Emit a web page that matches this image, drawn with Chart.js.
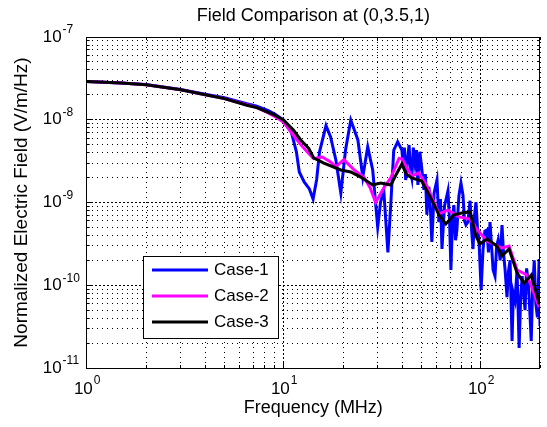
<!DOCTYPE html>
<html>
<head>
<meta charset="utf-8">
<script src="https://cdn.jsdelivr.net/npm/chart.js@4.4.1/dist/chart.umd.min.js"></script>
<style>
html, body { margin: 0; padding: 0; background: #fff; }
</style>
</head>
<body>
<canvas id="fieldChart" width="547" height="427"></canvas>
<script>
// valeurs (MHz, V/m/Hz)
const freqCase1 = [1, 1.5, 2, 3, 4, 5, 6.5, 7.3, 8.3, 9,
  10, 10.9, 11.6, 12.0, 12.7, 13.5, 14.1, 14.7, 15.2, 16.4,
  17.3, 18.4, 19.5, 20.6, 21.9, 23.8, 25.2, 26.7, 28.3, 30,
  31, 32.2, 33.8, 35, 36.2, 37.9,
  39.8, 40.5, 41, 41.6, 42.4, 43.3, 44, 44.7, 45.5, 46.4,
  47.2, 48, 49.1, 50.2, 51.5, 52.4, 53.3, 54.6, 55.5, 56.5,
  58, 60, 61.4, 62.5, 63.6, 65.5, 68.2, 69.5, 70.6, 72,
  73.1, 74.5, 75.7, 77.5, 79.4, 81.3, 82.8, 84.2, 86.1, 88.3,
  90, 91.4, 93, 94.6, 96.3, 98, 100.5, 102.7, 105, 107.6,
  109.5, 111.5, 113.5, 115.6, 118.2, 120.5, 122.6, 125.5, 128.3, 130.5,
  133, 136, 138.5, 141, 144.3, 146.5, 149.4, 153, 156.7, 159.5,
  162.4, 165, 168, 171, 175, 180.5, 183.5, 187, 190.5, 194,
  198, 200];
const fieldCase1 = [2.9e-8, 2.78e-8, 2.66e-8, 2.32e-8, 2.03e-8, 1.84e-8, 1.56e-8, 1.46e-8, 1.3e-8, 1.17e-8,
  9.9e-9, 7.3e-9, 4.1e-9, 2.34e-9, 1.77e-9, 1.46e-9, 1.1e-9, 1.9e-9, 4.1e-9, 8.5e-9,
  6.2e-9, 3.27e-9, 1.3e-9, 4.3e-9, 9.9e-9, 5.7e-9, 2.03e-9, 4.7e-9, 2.47e-9, 5.06e-10,
  1.0e-9, 1.42e-9, 2.5e-10, 1.0e-9, 4.3e-9, 5.4e-9,
  4.3e-9, 2.6e-9, 4.6e-9, 1.87e-9, 3.2e-9, 4.95e-9, 2.4e-9, 1.98e-9, 4.6e-9, 3.0e-9,
  4.3e-9, 1.63e-9, 4.1e-9, 2.6e-9, 1.42e-9, 2.2e-9, 7.1e-10, 1.54e-9, 9e-10, 3.33e-10,
  1.3e-9, 1.87e-9, 5.8e-10, 1.1e-9, 2.74e-10, 9e-10, 1.38e-9, 6e-10, 1.53e-10, 6.5e-10,
  9.3e-10, 3.5e-10, 4.65e-10, 1.2e-9, 1.72e-9, 1.23e-9, 6e-10, 5.35e-10, 5.8e-10, 1.05e-9,
  4.5e-10, 2.74e-10, 7e-10, 1.01e-9, 5e-10, 3.5e-10, 8.8e-11, 2.66e-10, 4.5e-10, 4.66e-10,
  2.5e-10, 5.8e-10, 3.0e-10, 1.53e-10, 1.29e-10, 3.0e-10, 3.52e-10, 2.0e-10, 5.35e-10, 2.5e-10,
  1.53e-10, 7.2e-11, 1.5e-10, 2.0e-10, 2.12e-11, 8e-11, 6.6e-11, 1.53e-10, 1.75e-11, 7e-11,
  1.29e-10, 8e-11, 5.0e-11, 1.6e-10, 1.0e-10, 2.12e-11, 9e-11, 2.0e-10, 6e-11, 4.1e-11,
  2.08e-10, 3.2e-11];

const freqCase2 = [1, 1.5, 2, 3, 4, 5, 6.5, 7.3, 8.3, 9,
  10, 11.2, 12.2, 13.4, 14.2, 15.7, 17.3, 18.4, 20.2, 22.7,
  25.6, 27.5, 29.3, 32.2, 35, 38.5, 39.8, 42.7, 44.7, 48.5,
  53.3, 57, 61.4, 68.2, 77.6, 88.3, 94.6, 107.6, 128.3, 139.3,
  153, 172, 196, 200];
const fieldCase2 = [2.9e-8, 2.78e-8, 2.65e-8, 2.3e-8, 2.0e-8, 1.8e-8, 1.52e-8, 1.4e-8, 1.22e-8, 1.1e-8,
  9.3e-9, 6.5e-9, 5.0e-9, 3.9e-9, 3.4e-9, 3.55e-9, 3.1e-9, 2.7e-9, 3.3e-9, 2.5e-9,
  2.0e-9, 1.5e-9, 1.0e-9, 1.5e-9, 2.0e-9, 3.4e-9, 3.36e-9, 2.5e-9, 2.09e-9, 2.28e-9,
  1.6e-9, 1.1e-9, 7.3e-10, 8.1e-10, 6.7e-10, 6.3e-10, 4.9e-10, 3.43e-10, 2.82e-10, 2.98e-10,
  1.53e-10, 1.33e-10, 5.8e-11, 6.3e-11];

const freqCase3 = [1, 1.5, 2, 3, 4, 5, 6.5, 7.3, 8.3, 9,
  10, 11.2, 12.2, 13.4, 14.2, 16, 19.5, 21.9, 24.6, 28.3,
  31.1, 35, 37.3, 39.8, 41.9, 44.7, 50.2, 55.9, 61.4, 66.6,
  73.1, 81.3, 88.3, 94.6, 99.1, 107.6, 121, 128.3, 139.3, 153,
  166, 180.5, 196, 200];
const fieldCase3 = [2.9e-8, 2.78e-8, 2.65e-8, 2.3e-8, 2.0e-8, 1.8e-8, 1.5e-8, 1.4e-8, 1.24e-8, 1.14e-8,
  9.9e-9, 7.5e-9, 5.7e-9, 4.5e-9, 3.45e-9, 3.0e-9, 2.47e-9, 2.34e-9, 2.03e-9, 1.63e-9,
  1.72e-9, 1.63e-9, 2.2e-9, 2.92e-9, 2.2e-9, 1.98e-9, 1.82e-9, 1.13e-9, 7.1e-10, 5.5e-10,
  7.1e-10, 7.5e-10, 7.7e-10, 3.94e-10, 3.15e-10, 3.62e-10, 2.98e-10, 2.26e-10, 2.74e-10, 1.41e-10,
  1.06e-10, 1.33e-10, 6.6e-11, 7.6e-11];

const xTicks = [1, 2, 3, 4, 5, 6, 7, 8, 9, 10, 20, 30, 40, 50, 60, 70, 80, 90, 100, 200];
const yTicks = [1e-11, 2e-11, 3e-11, 4e-11, 5e-11, 6e-11, 7e-11, 8e-11, 9e-11,
  1e-10, 2e-10, 3e-10, 4e-10, 5e-10, 6e-10, 7e-10, 8e-10, 9e-10,
  1e-9, 2e-9, 3e-9, 4e-9, 5e-9, 6e-9, 7e-9, 8e-9, 9e-9,
  1e-8, 2e-8, 3e-8, 4e-8, 5e-8, 6e-8, 7e-8, 8e-8, 9e-8, 1e-7];

const chartTitle = 'Field Comparison at (0,3.5,1)';
const FONT = "'Liberation Sans', Arial, Helvetica, sans-serif";

function isDecade(v) {
  const l = Math.log10(v);
  return Math.abs(l - Math.round(l)) < 1e-6;
}
function toPoints(xs, ys) {
  return xs.map((x, i) => ({ x: x, y: ys[i] }));
}

// cadre, graduations, libelles 10^n, titre et legende facon matlab
const matlabFrame = {
  id: 'matlabFrame',
  afterDatasetsDraw(chart) {
    const { ctx, chartArea: a, scales: { x, y } } = chart;
    const al = p => Math.round(p - 0.5) + 0.5;
    ctx.save();
    ctx.strokeStyle = '#000';
    ctx.lineWidth = 1;
    ctx.setLineDash([]);
    ctx.beginPath();
    x.ticks.forEach(t => {
      const px = al(x.getPixelForValue(t.value));
      const len = isDecade(t.value) ? 5 : 3;
      ctx.moveTo(px, a.bottom); ctx.lineTo(px, a.bottom - len);
      ctx.moveTo(px, a.top); ctx.lineTo(px, a.top + len);
    });
    y.ticks.forEach(t => {
      const py = al(y.getPixelForValue(t.value));
      const len = isDecade(t.value) ? 5 : 3;
      ctx.moveTo(a.left, py); ctx.lineTo(a.left + len, py);
      ctx.moveTo(a.right, py); ctx.lineTo(a.right - len, py);
    });
    ctx.stroke();
    ctx.strokeRect(al(a.left), al(a.top), Math.round(a.right - a.left), Math.round(a.bottom - a.top));

    ctx.fillStyle = '#000';
    ctx.textBaseline = 'middle';

    // titre centre sur la zone de trace
    ctx.textAlign = 'center';
    ctx.font = '18px ' + FONT;
    ctx.fillText(chartTitle, (a.left + a.right) / 2, 16);

    // libelles des decades
    ctx.textAlign = 'left';
    const base = '17px ' + FONT, sup = '12px ' + FONT;
    x.ticks.filter(t => isDecade(t.value)).forEach(t => {
      const e = String(Math.round(Math.log10(t.value)));
      ctx.font = base; const w1 = ctx.measureText('10').width;
      ctx.font = sup; const w2 = ctx.measureText(e).width;
      const px = x.getPixelForValue(t.value) - (w1 + w2) / 2;
      ctx.font = base; ctx.fillText('10', px, a.bottom + 21);
      ctx.font = sup; ctx.fillText(e, px + w1 + 1, a.bottom + 13);
    });
    y.ticks.filter(t => isDecade(t.value)).forEach(t => {
      const e = String(Math.round(Math.log10(t.value)));
      const py = y.getPixelForValue(t.value);
      ctx.font = base; const w1 = ctx.measureText('10').width;
      ctx.fillText('10', a.left - 44, py);
      ctx.font = sup; ctx.fillText(e, a.left - 44 + w1 + 1, py - 7);
    });

    // legende
    const lx = 143, ly = 256, lw = 135, lh = 82;
    ctx.fillStyle = '#fff';
    ctx.fillRect(lx, ly, lw, lh);
    ctx.strokeStyle = '#000';
    ctx.lineWidth = 1;
    ctx.strokeRect(lx + 0.5, ly + 0.5, lw, lh);
    ctx.font = '17px ' + FONT;
    chart.data.datasets.forEach((ds, i) => {
      const yy = ly + 14 + i * 26;
      ctx.strokeStyle = ds.borderColor;
      ctx.lineWidth = ds.borderWidth;
      ctx.beginPath();
      ctx.moveTo(lx + 9, yy); ctx.lineTo(lx + 65, yy);
      ctx.stroke();
      ctx.fillStyle = '#000';
      ctx.fillText(ds.label, lx + 71, yy);
    });
    ctx.restore();
  }
};

Chart.defaults.font.family = FONT;
Chart.defaults.color = '#000';

const gridDash = c => c.tick ? (isDecade(c.tick.value) ? [2, 2] : [1, 4]) : [];

const ctx = document.getElementById('fieldChart').getContext('2d');
new Chart(ctx, {
  type: 'line',
  data: {
    datasets: [
      { label: 'Case-1', data: toPoints(freqCase1, fieldCase1), borderColor: '#0000ff', borderWidth: 3, order: 3 },
      { label: 'Case-2', data: toPoints(freqCase2, fieldCase2), borderColor: '#ff00ff', borderWidth: 3, order: 2 },
      { label: 'Case-3', data: toPoints(freqCase3, fieldCase3), borderColor: '#000000', borderWidth: 3, order: 1 }
    ]
  },
  options: {
    responsive: false,
    animation: false,
    devicePixelRatio: 1,
    layout: { padding: { left: 0, right: 7, top: 37, bottom: 0 } },
    elements: { point: { radius: 0 }, line: { tension: 0, fill: false } },
    plugins: {
      legend: { display: false },
      tooltip: { enabled: false },
      title: { display: false }
    },
    scales: {
      x: {
        type: 'logarithmic',
        min: 1,
        max: 200,
        afterBuildTicks: s => { s.ticks = xTicks.map(v => ({ value: v, major: isDecade(v) })); },
        ticks: { display: false },
        grid: { color: '#000', lineWidth: 1, drawTicks: false },
        border: { display: false, dash: gridDash },
        title: { display: true, text: 'Frequency (MHz)', font: { size: 18 }, padding: { top: 29.2, bottom: 8.2 } }
      },
      y: {
        type: 'logarithmic',
        min: 1e-11,
        max: 1e-7,
        afterBuildTicks: s => { s.ticks = yTicks.map(v => ({ value: v, major: isDecade(v) })); },
        ticks: { display: false },
        grid: { color: '#000', lineWidth: 1, drawTicks: false },
        border: { display: false, dash: gridDash },
        title: { display: true, text: 'Normalized Electric Field (V/m/Hz)', font: { size: 19 }, padding: { top: 10.6, bottom: 53.3 } }
      }
    }
  },
  plugins: [matlabFrame]
});
</script>
</body>
</html>
